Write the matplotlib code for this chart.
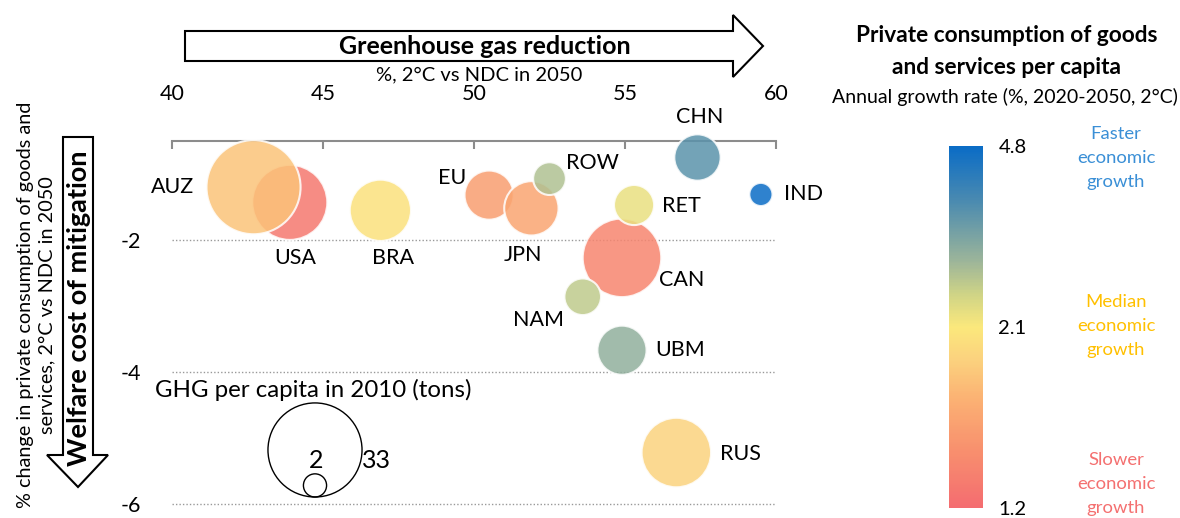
import numpy as np
import matplotlib.pyplot as plt
from matplotlib.colors import LinearSegmentedColormap, TwoSlopeNorm
from matplotlib.cm import ScalarMappable
from matplotlib.patches import Polygon

plt.rcParams['font.family'] = ['Lato', 'DejaVu Sans']
plt.rcParams['axes.unicode_minus'] = False

# values
regions = ["USA", "AUZ", "BRA", "EU", "JPN", "ROW", "CAN", "RET",
           "NAM", "UBM", "CHN", "IND", "RUS"]
ghg_reduction = [43.9, 42.7, 46.9, 50.5, 51.9, 52.5, 54.9, 55.3,
                 53.6, 54.9, 57.4, 59.5, 56.7]
welfare_change = [-1.43, -1.20, -1.55, -1.32, -1.52, -1.07, -2.27, -1.47,
                  -2.86, -3.67, -0.75, -1.31, -5.22]
ghg_per_capita = [21, 33, 14, 9, 11, 4, 23, 6, 5, 9, 8, 2, 18]
growth_rate = [1.3, 1.85, 2.05, 1.6, 1.65, 2.9, 1.4, 2.3,
               2.75, 3.2, 3.8, 4.8, 1.95]

legend_sizes = [33, 2]
x_ticks = [40, 45, 50, 55, 60]
y_ticks = [-2, -4, -6]
cbar_ticks = [1.2, 2.1, 4.8]

# label placement, pixel offsets from bubble centre (dx, dy down, align)
label_pos = {
    "AUZ": (-59, 0, "right"), "USA": (5, 56, "center"),
    "BRA": (13, 48, "center"), "EU": (-23, -17, "right"),
    "JPN": (-8, 47, "center"), "ROW": (17, -16, "left"),
    "CHN": (2, -41, "center"), "IND": (23, 0, "left"),
    "RET": (28, 1, "left"), "CAN": (37, 22, "left"),
    "NAM": (-19, 23, "right"), "UBM": (33, 0, "left"),
    "RUS": (44, 1, "left"),
}

W, H = 1180, 518
SCALE = 139  # points^2 per ton

cmap = LinearSegmentedColormap.from_list("growth", [
    (0.0, "#F46C70"), (0.16, "#F8906E"), (0.30, "#FBB173"),
    (0.41, "#FBD27E"), (0.5, "#FBE87C"), (0.59, "#CFD486"),
    (0.685, "#9BB49A"), (0.85, "#4A8AB0"), (1.0, "#0A6CC6")])
norm = TwoSlopeNorm(vmin=1.2, vcenter=2.1, vmax=4.8)


def px_box(x0, y0, x1, y1):
    return [x0 / W, 1 - y1 / H, (x1 - x0) / W, (y1 - y0) / H]


fig = plt.figure(figsize=(W / 100, H / 100), dpi=100)

# overlay in pixel coordinates for arrows and free text
ov = fig.add_axes([0, 0, 1, 1])
ov.set_xlim(0, W)
ov.set_ylim(H, 0)
ov.axis("off")

ax = fig.add_axes(px_box(172, 141, 776, 506))
ax.patch.set_visible(False)

ax.scatter(ghg_reduction, welfare_change,
           s=np.array(ghg_per_capita) * SCALE,
           c=growth_rate, cmap=cmap, norm=norm, alpha=0.85,
           edgecolors="white", linewidths=1.5, clip_on=False, zorder=3)

for name, x, y in zip(regions, ghg_reduction, welfare_change):
    dx, dy, ha = label_pos[name]
    ax.annotate(name, (x, y), xytext=(dx, -dy), textcoords="offset pixels",
                ha=ha, va="center", fontsize=15.5, zorder=4)

ax.set_xlim(40, 60)
ax.set_ylim(-6.03, -0.5)
ax.set_xticks(x_ticks)
ax.set_yticks(y_ticks)
ax.xaxis.set_ticks_position("top")
ax.tick_params(axis="x", direction="in", length=6, width=1.5,
               color="#8C8C8C", pad=27, labelsize=15.5)
ax.tick_params(axis="y", length=0, pad=22, labelsize=15.5)
for side in ["left", "right", "bottom"]:
    ax.spines[side].set_visible(False)
ax.spines["top"].set_color("#8C8C8C")
ax.spines["top"].set_linewidth(1.5)
ax.grid(axis="y", linestyle=(0, (1, 1.5)), color="#999999", linewidth=1)
ax.grid(axis="x", visible=False)

# arrows
right_arrow = [(185, 31), (733, 31), (733, 15), (763, 46), (733, 77),
               (733, 61), (185, 61)]
ov.add_patch(Polygon(right_arrow, closed=True, fc="white", ec="black", lw=1.5))
ov.text(485, 46, "Greenhouse gas reduction", ha="center", va="center",
        fontsize=18, fontweight="bold")
ov.text(479, 75, "%, 2°C vs NDC in 2050", ha="center", va="center",
        fontsize=14.5)

down_arrow = [(63, 137), (93, 137), (93, 455), (108, 455), (78, 487),
              (47, 455), (63, 455)]
ov.add_patch(Polygon(down_arrow, closed=True, fc="white", ec="black", lw=1.5))
ov.text(79, 308, "Welfare cost of mitigation", ha="center", va="center",
        rotation=90, fontsize=19.5, fontweight="bold")
ov.text(36, 305, "% change in private consumption of goods and\n"
        "services, 2°C vs NDC in 2050", ha="center", va="center",
        rotation=90, fontsize=14.3, linespacing=1.3)

# size legend
ov.text(155, 390, "GHG per capita in 2010 (tons)", ha="left", va="center",
        fontsize=17.3)
radii = [np.sqrt(v * SCALE) / 2 / 0.72 for v in legend_sizes]
ov.scatter([315] * 2, [497 - r for r in radii],
           s=np.array(legend_sizes) * SCALE, facecolors="none",
           edgecolors="black", linewidths=1)
ov.text(316, 460, str(legend_sizes[1]), ha="center", va="center", fontsize=18)
ov.text(362, 460, str(legend_sizes[0]), ha="left", va="center", fontsize=18)

# colour legend
ov.text(1007, 35, "Private consumption of goods", ha="center", va="center",
        fontsize=16.3, fontweight="bold")
ov.text(1007, 68, "and services per capita", ha="center", va="center",
        fontsize=16.3, fontweight="bold")
ov.text(1005, 97, "Annual growth rate (%, 2020-2050, 2°C)", ha="center",
        va="center", fontsize=14)

cax = fig.add_axes(px_box(949, 146, 983, 508))
cb = fig.colorbar(ScalarMappable(norm=norm, cmap=cmap), cax=cax,
                  ticks=cbar_ticks)
cb.outline.set_visible(False)
cax.set_yticklabels([f"{t:.1f}" for t in cbar_ticks])
cax.tick_params(length=0, labelsize=14.5, pad=11)

notes = [("Faster\neconomic\ngrowth", 158, "#3A8FD6"),
         ("Median\neconomic\ngrowth", 326, "#FFC000"),
         ("Slower\neconomic\ngrowth", 484, "#F47070")]
for txt, y, col in notes:
    ov.text(1116, y, txt, ha="center", va="center", fontsize=13.3,
            color=col, linespacing=1.6)

fig.savefig("out.png", dpi=100)
